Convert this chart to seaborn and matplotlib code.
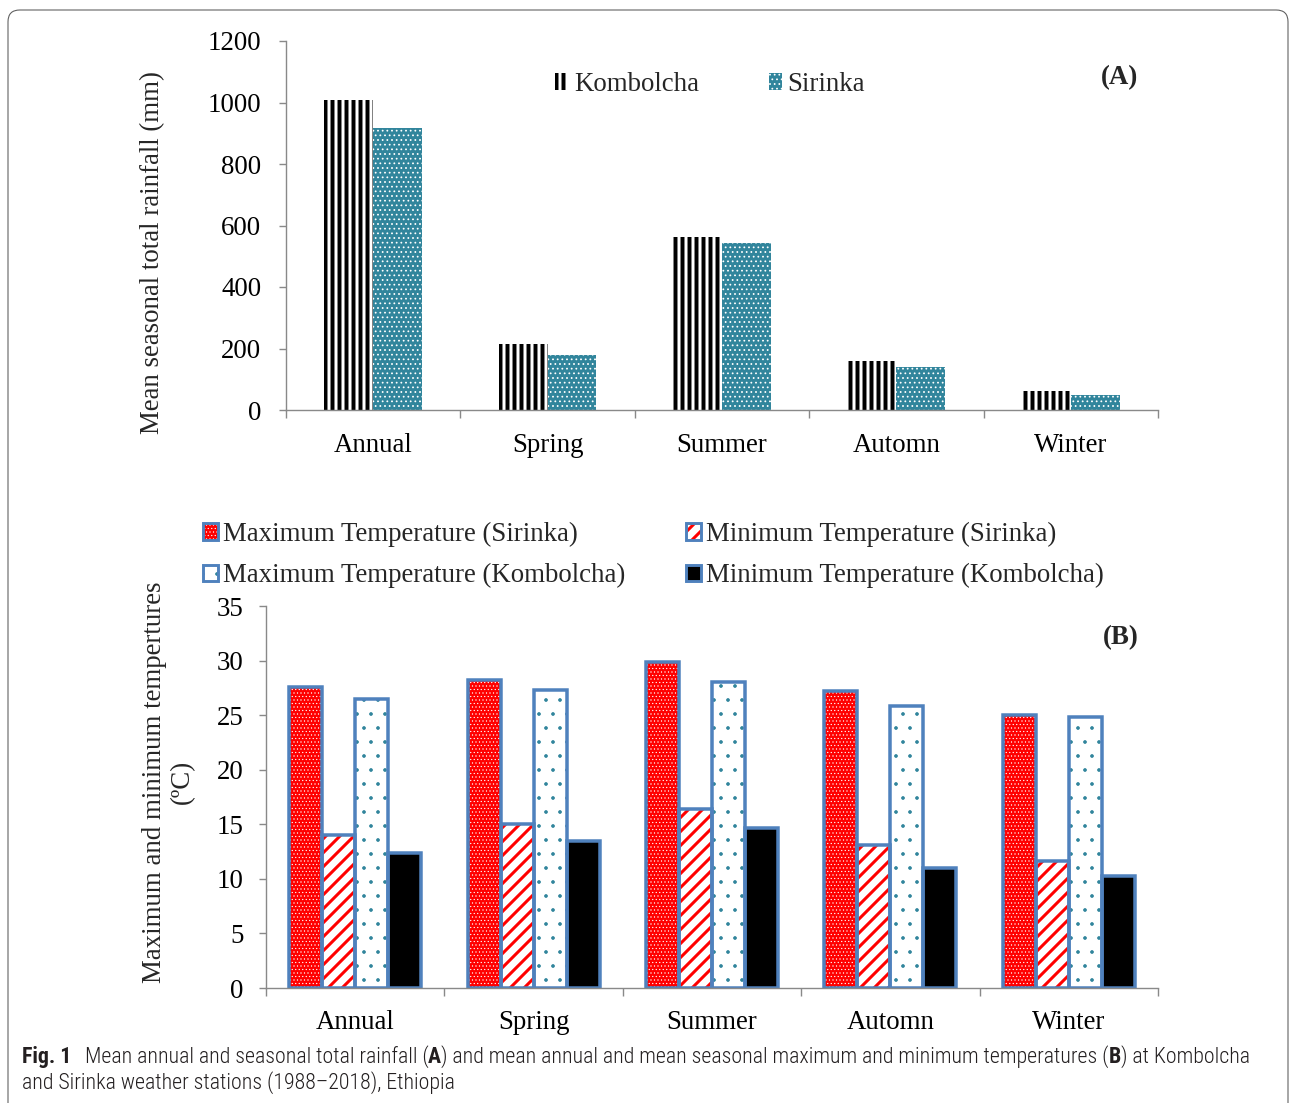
import numpy as np
import pandas as pd
import matplotlib
matplotlib.use("Agg")
import matplotlib.pyplot as plt
import seaborn as sns
from matplotlib.patches import Patch, Rectangle, FancyBboxPatch
from matplotlib.legend_handler import HandlerTuple
from matplotlib.ticker import FixedLocator

# ---------------- data ----------------
seasons = ["Annual", "Spring", "Summer", "Automn", "Winter"]
stations_a = ["Kombolcha", "Sirinka"]
rain_kombolcha = [1008, 215, 563, 159, 62]
rain_sirinka = [917, 179, 543, 140, 49]

series_b = ["Maximum Temperature (Sirinka)", "Minimum Temperature (Sirinka)",
            "Maximum Temperature (Kombolcha)", "Minimum Temperature (Kombolcha)"]
tmax_sirinka = [27.6, 28.2, 29.9, 27.2, 25.0]
tmin_sirinka = [14.0, 15.0, 16.4, 13.1, 11.6]
tmax_kombolcha = [26.5, 27.3, 28.0, 25.8, 24.8]
tmin_kombolcha = [12.4, 13.5, 14.7, 11.0, 10.3]

yticks_a = [0, 200, 400, 600, 800, 1000, 1200]
yticks_b = [0, 5, 10, 15, 20, 25, 30, 35]

label_a = "Mean seasonal total rainfall (mm)"
label_b = "Maximum and minimum tempertures\n(ºC)"
caption_line1 = [("Fig. 1", True), ("Mean annual and seasonal total rainfall (", False), ("A", True),
                 (") and mean annual and mean seasonal maximum and minimum temperatures (", False),
                 ("B", True), (") at Kombolcha", False)]
caption_line2 = [("and Sirinka weather stations (1988\u20132018), Ethiopia", False)]

# ---------------- style ----------------
W, H, DPI = 1290, 1103, 84
TEAL = "#31859C"
RED = "#FF0000"
BLUE = "#4F81BD"
GRAY = "#898989"
FS = 23

sns.set_theme(style="white")
plt.rcParams["font.family"] = ["Liberation Serif", "DejaVu Serif"]

styles_a = [dict(face="white", hatch="||", hcolor="black", hlw=3.4),
            dict(face=TEAL, hatch="...", hcolor="white", hlw=0.8)]
styles_b = [dict(face=RED, hatch="....", hcolor="white", hlw=0.5),
            dict(face="white", hatch="//", hcolor=RED, hlw=2.6),
            dict(face="white", hatch=".", hcolor=TEAL, hlw=0.7),
            dict(face="black", hatch=None, hcolor="black", hlw=1.0)]
HATCH_LW = {st["hatch"]: st["hlw"] for st in styles_a + styles_b if st["hatch"]}


def style_patch(p, st):
    p.set_facecolor(st["face"])
    p.set_hatch(st["hatch"])
    p.set_edgecolor(st["hcolor"])
    p.set_linewidth(0)
    if hasattr(p, "set_hatch_linewidth"):
        p.set_hatch_linewidth(st["hlw"])


def fix_legend_hatch(leg):
    for art in leg.findobj(matplotlib.patches.Patch):
        h = art.get_hatch()
        if h in HATCH_LW and hasattr(art, "set_hatch_linewidth"):
            art.set_hatch_linewidth(HATCH_LW[h])


fig = plt.figure(figsize=(W / DPI, H / DPI), dpi=DPI)
fig.patch.set_facecolor("white")

axA = fig.add_axes([286 / W, 1 - 410 / H, (1158 - 286) / W, (410 - 41) / H])
axB = fig.add_axes([266 / W, 1 - 988 / H, (1158 - 266) / W, (988 - 606) / H])

# ---------------- panel A ----------------
dfa = pd.DataFrame({
    "season": seasons * 2,
    "rain": rain_kombolcha + rain_sirinka,
    "station": [stations_a[0]] * len(seasons) + [stations_a[1]] * len(seasons),
})
sns.barplot(data=dfa, x="season", y="rain", hue="station", order=seasons,
            hue_order=stations_a, palette=["white", TEAL], width=0.56,
            errorbar=None, legend=False, ax=axA)
for cont, st in zip(axA.containers, styles_a):
    for p in cont:
        style_patch(p, st)

# ---------------- panel B ----------------
dfb = pd.DataFrame({
    "season": seasons * 4,
    "temp": tmax_sirinka + tmin_sirinka + tmax_kombolcha + tmin_kombolcha,
    "series": sum([[s] * len(seasons) for s in series_b], []),
})
sns.barplot(data=dfb, x="season", y="temp", hue="series", order=seasons,
            hue_order=series_b, palette=[RED, "white", "white", "black"], width=0.74,
            errorbar=None, legend=False, ax=axB)
for cont, st in zip(axB.containers, styles_b):
    for p in list(cont):
        style_patch(p, st)
        outline = Rectangle(p.get_xy(), p.get_width(), p.get_height(), fill=False,
                            edgecolor=BLUE, linewidth=3.0, zorder=p.get_zorder() + 0.1)
        axB.add_patch(outline)

# ---------------- axes cosmetics ----------------
for ax, yt in ((axA, yticks_a), (axB, yticks_b)):
    ax.set_xlabel("")
    ax.set_ylabel("")
    ax.set_xlim(-0.5, len(seasons) - 0.5)
    ax.set_ylim(yt[0], yt[-1])
    ax.set_yticks(yt)
    ax.set_facecolor("white")
    for side in ("top", "right"):
        ax.spines[side].set_visible(False)
    for side in ("left", "bottom"):
        ax.spines[side].set_color(GRAY)
        ax.spines[side].set_linewidth(1.2)
    ax.xaxis.set_minor_locator(FixedLocator(np.arange(-0.5, len(seasons), 1.0)))
    ax.tick_params(axis="x", which="minor", length=7, width=1.2, color=GRAY, bottom=True, direction="out")
    ax.tick_params(axis="y", which="major", length=6, width=1.2, color=GRAY, left=True,
                   direction="out", labelsize=FS, labelcolor="black")
axA.tick_params(axis="x", which="major", length=0, labelsize=FS, pad=19.5, colors="black")
axB.tick_params(axis="x", which="major", length=0, labelsize=FS, pad=18.5, colors="black")
axA.tick_params(axis="y", pad=15)
axB.tick_params(axis="y", pad=13.5)

# labels
fig.text(153 / W, 1 - 252.5 / H, label_a, rotation=90, ha="center", va="center", fontsize=FS)
fig.text(168.5 / W, 1 - 782 / H, label_b, rotation=90, ha="center", va="center",
         multialignment="center", fontsize=FS, linespacing=1.2)
fig.text(1120 / W, 1 - 78 / H, "(A)", ha="center", va="center", fontsize=FS, fontweight="bold")
fig.text(1121 / W, 1 - 638 / H, "(B)", ha="center", va="center", fontsize=FS, fontweight="bold")

# ---------------- legends ----------------
handles_a = []
for st in styles_a:
    h = Patch()
    style_patch(h, st)
    handles_a.append(h)
legA = fig.legend(handles_a, stations_a, loc="center left", bbox_to_anchor=(555 / W, 1 - 84.5 / H),
                  ncol=2, frameon=False, fontsize=FS, handlelength=0.5, handleheight=0.6,
                  handletextpad=0.2, columnspacing=2.6, borderpad=0, borderaxespad=0)
fix_legend_hatch(legA)

handles_b = []
for st in styles_b:
    h = Patch()
    style_patch(h, st)
    e = Patch(fill=False, edgecolor=BLUE, linewidth=2.5)
    handles_b.append((h, e))
order = [0, 2, 1, 3]
legB = fig.legend([handles_b[i] for i in order], [series_b[i] for i in order],
                  loc="center left", bbox_to_anchor=(203 / W, 1 - 555 / H),
                  ncol=2, frameon=False, fontsize=FS, handlelength=0.55, handleheight=0.55,
                  handletextpad=0.2, columnspacing=2.27, labelspacing=0.6, borderpad=0,
                  borderaxespad=0, handler_map={tuple: HandlerTuple(ndivide=1, pad=0)})
fix_legend_hatch(legB)

# ---------------- frame ----------------
frame = FancyBboxPatch((8 / DPI, -1.0), (1288 - 8) / DPI, (H - 10) / DPI + 1.0,
                       boxstyle="round,pad=0,rounding_size=0.14", transform=fig.dpi_scale_trans,
                       facecolor="none", edgecolor="#5a5a5a", linewidth=0.9)
fig.patches.append(frame)

# ---------------- caption ----------------
CAP_FAMILY = ["Roboto Condensed", "Liberation Sans Narrow", "Roboto", "DejaVu Sans"]
CAP_FAMILY = [f for f in CAP_FAMILY
              if f == "DejaVu Sans" or any(fe.name == f for fe in matplotlib.font_manager.fontManager.ttflist)]
CAP_COLOR = "#231F20"
renderer = fig.canvas.get_renderer()


def draw_segments(segs, x_px, y_px, size):
    x = x_px
    texts = []
    for i, (s, bold) in enumerate(segs):
        if i == 1 and segs[0][0].startswith("Fig"):
            x += 0.6 * size * DPI / 72
        t = fig.text(x / W, 1 - y_px / H, s, fontsize=size, family=CAP_FAMILY,
                     fontweight="bold" if bold else "light", color=CAP_COLOR,
                     ha="left", va="baseline")
        bb = t.get_window_extent(renderer)
        x = bb.x1
        texts.append(t)
    return texts, x


size0 = 15
texts, xend = draw_segments(caption_line1, 22, 1063, size0)
for t in texts:
    t.remove()
cap_size = size0 * (1255 - 22) / (xend - 22)
draw_segments(caption_line1, 22, 1063, cap_size)
draw_segments(caption_line2, 22, 1089, cap_size)

fig.savefig("out.png", dpi=DPI, facecolor="white")
